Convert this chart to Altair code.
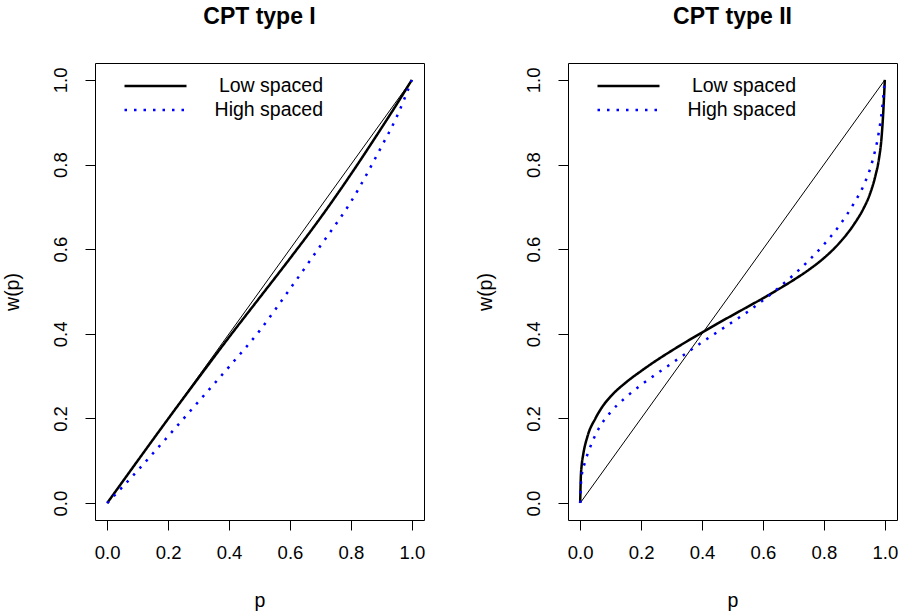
import altair as alt
import pandas as pd

FONT = "Liberation Sans"

series_names = ["Low spaced", "High spaced"]
tick_vals = [0.0, 0.2, 0.4, 0.6, 0.8, 1.0]

# identity line (both panels)
p_diag = [0.0, 1.0]
w_diag = [0.0, 1.0]

# CPT type I
p1_low = [0.0, 0.1, 0.2, 0.3, 0.4, 0.5, 0.6, 0.7, 0.8, 0.9, 0.95, 1.0]
w1_low = [0.0, 0.1, 0.199, 0.296, 0.392, 0.485, 0.578, 0.674, 0.777, 0.886, 0.942, 1.0]
p1_high = [0.0, 0.05, 0.1, 0.2, 0.3, 0.4, 0.5, 0.6, 0.7, 0.8, 0.9, 0.95, 1.0]
w1_high = [0.0, 0.038, 0.077, 0.158, 0.24, 0.322, 0.407, 0.506, 0.608, 0.712, 0.842, 0.912, 1.0]

# CPT type II
p2_low = [0.0, 0.002, 0.005, 0.01, 0.025, 0.05, 0.075, 0.1, 0.15, 0.2, 0.25, 0.3, 0.35,
          0.4, 0.45, 0.5, 0.55, 0.6, 0.65, 0.7, 0.75, 0.8, 0.85, 0.9, 0.93, 0.95, 0.97,
          0.98, 0.99, 0.995, 1.0]
w2_low = [0.0, 0.06, 0.09, 0.115, 0.16, 0.2, 0.23, 0.252, 0.285, 0.312, 0.337, 0.36, 0.382,
          0.403, 0.424, 0.444, 0.464, 0.484, 0.505, 0.527, 0.551, 0.579, 0.614, 0.66, 0.696, 0.728, 0.776,
          0.81, 0.87, 0.925, 1.0]
p2_high = [0.0, 0.002, 0.005, 0.015, 0.03, 0.06, 0.1, 0.15, 0.2, 0.25, 0.3, 0.35, 0.4, 0.45,
           0.5, 0.55, 0.6, 0.65, 0.7, 0.75, 0.8, 0.85, 0.9, 0.93, 0.96, 0.98, 0.99, 1.0]
w2_high = [0.0, 0.04, 0.065, 0.095, 0.127, 0.175, 0.215, 0.25, 0.279, 0.305, 0.33, 0.355, 0.38, 0.404,
           0.428, 0.452, 0.479, 0.508, 0.539, 0.573, 0.611, 0.655, 0.71, 0.75, 0.81, 0.875, 0.925, 1.0]


def panel(title, p_low, w_low, p_high, w_high):
    df = pd.DataFrame({
        "p": p_low + p_high,
        "w": w_low + w_high,
        "series": [series_names[0]] * len(p_low) + [series_names[1]] * len(p_high),
        "ord": list(range(len(p_low))) + list(range(len(p_high))),
    })
    diag = pd.DataFrame({"p": p_diag, "w": w_diag})
    sc = alt.Scale(domain=[-0.04, 1.04], nice=False, zero=False)
    x = alt.X("p:Q", scale=sc, axis=alt.Axis(values=tick_vals, format=".1f", title="p"))
    y = alt.Y("w:Q", scale=sc, axis=alt.Axis(values=tick_vals, format=".1f", title="w(p)"))
    leg = alt.Legend(
        title=None, orient="none", legendX=28, legendY=13,
        symbolType="stroke", symbolSize=3844, symbolStrokeWidth=2.5,
        labelFont=FONT, labelFontSize=19.5, labelColor="black",
        labelAlign="right", labelOffset=135, labelLimit=400,
        clipHeight=20, rowPadding=4, padding=0,
    )
    d = alt.Chart(diag).mark_line(color="black", strokeWidth=1).encode(x=x, y=y)
    c = alt.Chart(df).mark_line(strokeWidth=2.5, interpolate="monotone").encode(
        x=x, y=y,
        color=alt.Color("series:N", scale=alt.Scale(domain=series_names, range=["black", "blue"]), legend=leg),
        strokeDash=alt.StrokeDash("series:N", scale=alt.Scale(domain=series_names, range=[[1, 0], [2.5, 7]]), legend=leg),
        order="ord:Q",
    )
    return alt.layer(d, c).properties(
        width=329, height=457,
        title=alt.Title(title, font=FONT, fontSize=23, fontWeight="bold", color="black",
                        anchor="middle", frame="group", offset=34),
    )


left = panel("CPT type I", p1_low, w1_low, p1_high, w1_high)
right = panel("CPT type II", p2_low, w2_low, p2_high, w2_high)

chart = alt.hconcat(left, right, spacing=144, bounds="flush").resolve_scale(
    color="independent", strokeDash="independent"
).properties(
    padding={"left": 1, "top": 5, "right": 0, "bottom": 0},
    background="white",
).configure_view(
    stroke="black", strokeWidth=1
).configure_axis(
    domain=False, grid=False, tickColor="black", tickSize=10, tickWidth=1,
    labelFont=FONT, labelFontSize=18.5, labelColor="black",
    titleFont=FONT, titleFontSize=19.5, titleFontWeight="normal", titleColor="black",
).configure_axisX(
    labelPadding=13, titlePadding=30,
).configure_axisY(
    labelAngle=270, labelAlign="center", labelBaseline="bottom", labelPadding=15, titlePadding=29,
)

chart.save("out.html", embed_options={"renderer": "svg", "actions": False})
